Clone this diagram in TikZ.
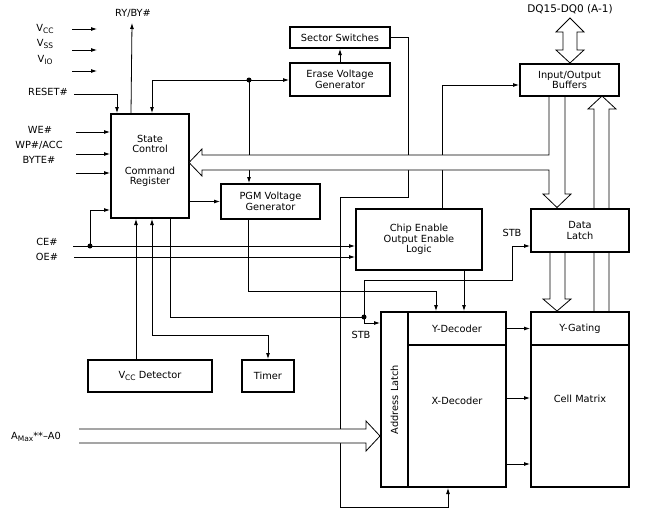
\documentclass[tikz,border=0pt]{standalone}
\usepackage{fontspec}
\setmainfont{DejaVu Sans}
\usetikzlibrary{arrows.meta, positioning}
\newcommand\pinsub[1]{\raisebox{-0.4ex}{\fontsize{7.5}{8}\selectfont #1}}

\begin{document}
\begin{tikzpicture}[x=1pt, y=-1pt,
  font=\fontsize{9.8}{10.5}\selectfont,
  box/.style={draw, line width=2pt, fill=white, align=center, inner sep=0pt},
  wire/.style={line width=0.8pt},
  arr/.style={wire, -{Latex[length=6pt, width=4pt]}},
  both/.style={wire, {Latex[length=6pt, width=4pt]}-{Latex[length=6pt, width=4pt]}},
  bus/.style={line width=0.8pt, fill=white, line join=miter},
  dot/.style={circle, fill, inner sep=0pt, minimum size=5pt}]
  \useasboundingbox (0,0) rectangle (646,512);

  % wide arrow Y-Gating -> I/O, runs behind Data Latch
  \filldraw[bus] (594,312) -- (594,109) -- (588,109) -- (602,96) -- (616,109) -- (609,109) -- (609,312);

  % blocks
  \node[box, minimum width=78, minimum height=104,
        label={[align=center, yshift=5pt]center:{State\\Control\\[11pt]Command\\Register}}] (sc) at (150,166) {};
  \node[box, minimum width=100, minimum height=21] (sec) at (340,37.5) {Sector Switches};
  \node[box, minimum width=100, minimum height=33] (erase) at (340,79.5) {Erase Voltage\\Generator};
  \node[box, minimum width=99, minimum height=32] (iob) at (569.5,80) {Input/Output\\Buffers};
  \node[box, minimum width=99, minimum height=35] (pgm) at (270.5,201.5) {PGM Voltage\\Generator};
  \node[box, minimum width=126, minimum height=61] (ce) at (419,239.5) {Chip Enable\\Output Enable\\Logic};
  \node[box, minimum width=98, minimum height=43] (dl) at (580,230.5) {Data\\Latch};
  \node[box, minimum width=27, minimum height=175,
        label={[rotate=90]center:Address Latch}] (al) at (394.5,399.5) {};
  \node[box, minimum width=98, minimum height=33] (yd) at (457,328.5) {Y-Decoder};
  \node[box, minimum width=98, minimum height=142,
        label={[yshift=15pt]center:X-Decoder}] (xd) at (457,416) {};
  \node[box, minimum width=98, minimum height=33] (yg) at (580,328.5) {Y-Gating};
  \node[box, minimum width=98, minimum height=142,
        label={[yshift=17pt]center:Cell Matrix}] (cm) at (580,416) {};
  \node[box, minimum width=124, minimum height=32] (vdet) at (150,376) {V\pinsub{CC} Detector};
  \node[box, minimum width=52, minimum height=32] (timer) at (268,376) {Timer};

  % pin names
  \node (lvcc) at (45,29) {V\pinsub{CC}};
  \node (lvss) at (45,44) {V\pinsub{SS}};
  \node (lvio) at (45,60) {V\pinsub{IO}};
  \node (lryby) at (133,13) {RY/BY\#};
  \node (lrst) at (48,92) {RESET\#};
  \node (lwe) at (40,130) {WE\#};
  \node (lwp) at (39,145) {WP\#/ACC};
  \node (lbyte) at (39,160) {BYTE\#};
  \node (lce) at (47,242) {CE\#};
  \node (loe) at (47,257) {OE\#};
  \node (laddr) at (36,437) {A\pinsub{Max}**–A0};
  \node[font=\fontsize{10.5}{12}\selectfont] (ldq) at (570,9) {DQ15-DQ0 (A-1)};
  \node (lstb1) at (512,233) {STB};
  \node (lstb2) at (361,335) {STB};

  % free ends of the pins
  \coordinate (vcca) at (72,29);  \coordinate (vccb) at (97,29);
  \coordinate (vssa) at (72,50);  \coordinate (vssb) at (97,50);
  \coordinate (vioa) at (72,71);  \coordinate (viob) at (97,71);
  \coordinate (rstin) at (74,94);
  \coordinate (rybyout) at (132,23);
  \coordinate (wein) at (76,132);
  \coordinate (wpin) at (76,154);
  \coordinate (bytein) at (76,173);
  \coordinate (cein) at (73,246);
  \coordinate (oein) at (74,257);

  \draw[arr] (vcca) -- (vccb);
  \draw[arr] (vssa) -- (vssb);
  \draw[arr] (vioa) -- (viob);
  \draw[arr] (rstin) -| ([xshift=7pt]sc.north west);
  \draw[arr] ([xshift=21pt]sc.north west) -- (rybyout);
  \draw[arr] (wein) -- (wein -| sc.west);
  \draw[arr] (wpin) -- (wpin -| sc.west);
  \draw[arr] (bytein) -- (bytein -| sc.west);
  \draw[arr] (cein) -- (cein -| ce.west);
  \draw[arr] (oein) -- (oein -| ce.west);
  \node[dot] (dce) at (90,246) {};
  \draw[arr] (dce.center) |- ([yshift=9pt]sc.south west);

  % voltage generators
  \node[dot] (dgen) at (249,80) {};
  \draw[arr] (dgen.center) -- (dgen -| erase.west);
  \draw[arr] (dgen.center) -| ([xshift=42pt]sc.north west);
  \draw[arr] (dgen.center) -- (dgen |- pgm.north);
  \draw[arr] (erase.north) -- (sec.south);
  \draw[arr] (sc.east |- pgm.west) -- (pgm.west);
  \draw[arr] (sec.east) -| (408,197) -| (340,507) -| ([xshift=-9pt]xd.south);
  \draw[arr] ([xshift=23pt]ce.north) |- ([yshift=-5pt]iob.west);

  % below State Control
  \draw[arr] ([xshift=-14pt]vdet.north) -- ([xshift=-14pt]sc.south);
  \draw[both] ([xshift=2pt]sc.south) |- ([yshift=24pt]timer.north) -- (timer.north);
  \node[dot] (dstb) at (364,317) {};
  \draw[wire] ([xshift=20pt]sc.south) |- (dstb.center);
  \draw[arr] (dstb.center) |- ([yshift=-12pt]al.north west);
  \draw[arr] (dstb.center) |- (512,280) |- ([yshift=-15.5pt]dl.west);
  \draw[arr] ([xshift=-22.5pt]pgm.south) |- ([xshift=-21pt, yshift=20pt]yd.north) -- ([xshift=-21pt]yd.north);
  \draw[arr] ([xshift=45pt]ce.south) -- ([xshift=7pt]yd.north);

  % decoders to array
  \draw[arr] (yd.east) -- (yg.west);
  \draw[arr] ([yshift=18pt]xd.east) -- ([yshift=18pt]cm.west);
  \draw[arr] ([yshift=-48pt]xd.east) -- ([yshift=-48pt]cm.west);

  % wide buses
  \filldraw[bus] (549,97) -- (549,155) -- (202,155) -- (202,149) -- (189,162.5) -- (202,176)
    -- (202,170) -- (549,170) -- (549,194) -- (543,194) -- (557,207.5) -- (571,194) -- (565,194) -- (565,97);
  \filldraw[bus] (550,253) -- (550,299) -- (543,299) -- (557,311) -- (571,299) -- (565,299) -- (565,253);
  \filldraw[bus] (79,429) -- (366,429) -- (366,421) -- (380,436) -- (366,451) -- (366,443) -- (79,443);
  \filldraw[bus] (570,18) -- (584,32) -- (577,32) -- (577,50) -- (584,50) -- (570,63)
    -- (556,50) -- (563,50) -- (563,32) -- (556,32) -- cycle;
\end{tikzpicture}
\end{document}
